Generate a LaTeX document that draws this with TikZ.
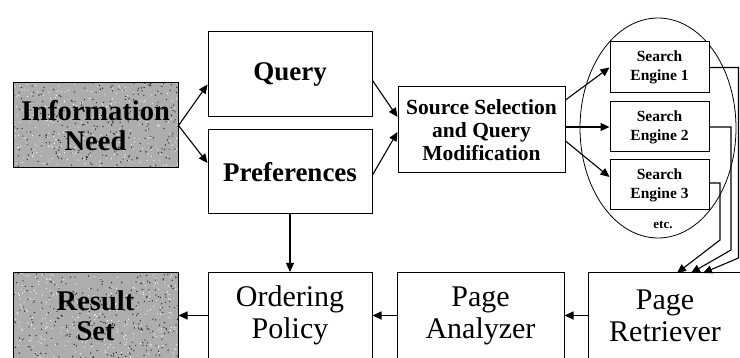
\documentclass[tikz,border=0pt]{standalone}
\usepackage{fontspec}
\setmainfont{Liberation Serif}
\usetikzlibrary{arrows.meta,shapes.geometric,calc}
\begin{document}
\begin{tikzpicture}[x=1pt,y=-1pt,
  >={Triangle[length=9pt,width=8pt]},
  line width=1pt,
  box/.style={draw, line width=1pt, fill=white, inner sep=0pt, align=center},
  texbox/.style={box, fill=black!32,
    path picture={
      \foreach \i in {1,...,300}{
        \fill[black!85] ([shift={({rand*85},{rand*45})}]path picture bounding box.center) circle (0.7pt);
        \fill[white] ([shift={({rand*85},{rand*45})}]path picture bounding box.center) circle (0.6pt);
      }}},
  bigbold/.style={font=\fontsize{28.5}{30}\selectfont\bfseries},
  midbold/.style={font=\fontsize{27}{29}\selectfont\bfseries},
  srcfont/.style={font=\fontsize{21.5}{23}\selectfont\bfseries},
  sefont/.style={font=\fontsize{15.5}{19}\selectfont\bfseries},
  regfont/.style={font=\fontsize{30}{32}\selectfont},
  conn/.style={->, line width=1.1pt}
]
\useasboundingbox (0,0) rectangle (740,358);
\pgfmathsetseed{11}

% top row
\node[texbox, bigbold, minimum width=165pt, minimum height=85pt] (info) at (95.5,125.5) {Information\\Need};
\node[box, midbold, minimum width=164pt, minimum height=85pt] (query) at (290,74.5) {Query};
\node[box, midbold, minimum width=164pt, minimum height=84pt] (pref) at (290,172) {Preferences};
\node[box, srcfont, minimum width=167pt, minimum height=86pt] (srcsel) at (481.5,130) {Source Selection\\and Query\\Modification};

% search engines group
\node[draw, ellipse, line width=0.8pt, minimum width=156pt, minimum height=220pt] (group) at (658,128) {};
\node[box, sefont, minimum width=99pt, minimum height=51pt] (se1) at (659.5,67.5) {Search\\Engine 1};
\node[box, sefont, minimum width=99pt, minimum height=50pt] (se2) at (659.5,127) {Search\\Engine 2};
\node[box, sefont, minimum width=99pt, minimum height=50pt] (se3) at (659.5,185) {Search\\Engine 3};
\node[font=\fontsize{13}{14}\selectfont\bfseries] (etc) at (663,225) {etc.};

% bottom row
\node[texbox, bigbold, minimum width=165pt, minimum height=86pt] (result) at (95.5,315.5) {Result\\Set};
\node[box, regfont, minimum width=164pt, minimum height=86pt] (ordering) at (290,315.5) {Ordering\\Policy};
\node[box, regfont, minimum width=167pt, minimum height=86pt] (analyzer) at (480.5,315.5) {Page\\Analyzer};
\node[box, regfont, minimum width=154pt, minimum height=86pt] (retriever) at (665,315.5) {Page\\Retriever};

% helper coordinates
\coordinate (c1) at (738.5,258);
\coordinate (t1) at (703,273);
\coordinate (c2) at (731,250);
\coordinate (t2) at (691,273);
\coordinate (c3) at (720,240);
\coordinate (t3) at (677,273);

% connectors
\draw[conn] (info.east) -- ($(query.west)+(0,10)$);
\draw[conn] (info.east) -- ($(pref.west)+(0,-9)$);
\draw[conn] ($(query.east)+(0,6)$) -- ($(srcsel.west)+(0,-13)$);
\draw[conn] ($(pref.east)+(0,3)$) -- ($(srcsel.west)+(0,2)$);
\draw[conn] ($(srcsel.east)+(0,-30)$) -- (se1.west);
\draw[conn] ($(srcsel.east)+(0,-3)$) -- (se2.west);
\draw[conn] ($(srcsel.east)+(0,11)$) -- ($(se3.west)+(0,-8)$);
\draw[conn] (se1.east) -| (c1) -- (t1);
\draw[conn] (se2.east) -| (c2) -- (t2);
\draw[conn] ($(se3.east)+(0,-2)$) -| (c3) -- (t3);
\draw[conn] (pref.south) -- (ordering.north);
\draw[conn] (retriever.west) -- (analyzer.east);
\draw[conn] (analyzer.west) -- (ordering.east);
\draw[conn] (ordering.west) -- (result.east);
\end{tikzpicture}
\end{document}
